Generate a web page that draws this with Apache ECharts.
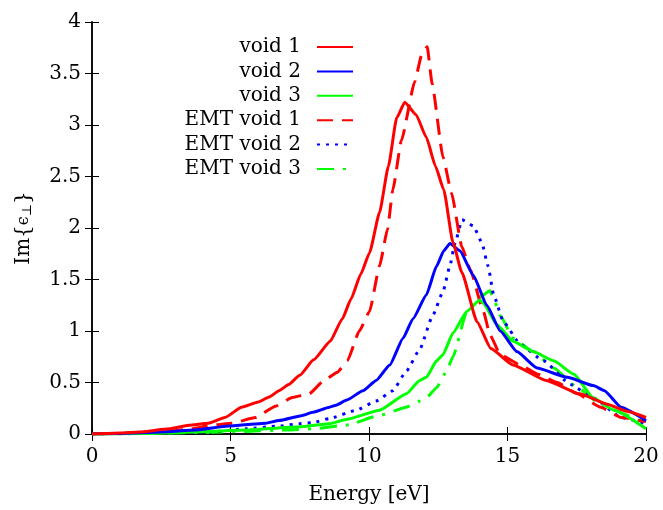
<!DOCTYPE html>
<html>
<head>
<meta charset="utf-8">
<script src="https://cdn.jsdelivr.net/npm/echarts@6/dist/echarts.min.js"></script>
<style>
html, body { margin: 0; padding: 0; background: #fff; }
#chart { width: 663px; height: 510px; }
</style>
</head>
<body>
<div id="chart"></div>
<script>
// names and values
var names = ['void 1', 'void 2', 'void 3', 'EMT void 1', 'EMT void 2', 'EMT void 3'];
var xTicks = [0, 5, 10, 15, 20];
var yTicks = [0, 0.5, 1, 1.5, 2, 2.5, 3, 3.5, 4];

var void1X = [0, 1, 1.7, 2.8, 3.5, 4.2, 4.8, 5.4, 6.0, 6.4, 6.75, 7.1, 7.5, 8.0, 8.6, 9.04, 9.35, 9.7, 10.02, 10.38, 10.7, 11.0, 11.29, 11.7, 12.07, 12.4, 12.7, 13.03, 13.35, 13.9, 14.4, 15.2, 16.4, 17.6, 18.6, 19.3, 20];
var void1Y = [0, 0.01, 0.02, 0.05, 0.086, 0.105, 0.16, 0.26, 0.31, 0.36, 0.42, 0.48, 0.57, 0.72, 0.9, 1.12, 1.31, 1.55, 1.76, 2.15, 2.6, 3.07, 3.22, 3.1, 2.88, 2.6, 2.37, 1.86, 1.57, 1.09, 0.83, 0.67, 0.52, 0.39, 0.29, 0.22, 0.16];

var void2X = [0, 1, 2.5, 3.73, 4.94, 5.5, 6.27, 6.75, 7.6, 7.96, 8.57, 8.81, 9.2, 9.78, 10.26, 10.75, 11.23, 11.59, 12.07, 12.44, 12.7, 12.92, 13.28, 13.77, 14.25, 14.74, 15.34, 16.07, 17.16, 18.1, 18.5, 19.1, 20];
var void2Y = [0, 0.005, 0.02, 0.038, 0.077, 0.09, 0.105, 0.13, 0.18, 0.21, 0.26, 0.28, 0.33, 0.42, 0.52, 0.67, 0.93, 1.12, 1.35, 1.63, 1.78, 1.85, 1.78, 1.54, 1.25, 1.0, 0.8, 0.64, 0.55, 0.47, 0.42, 0.26, 0.13];

var void3X = [0, 2, 3.7, 5.54, 7.36, 8.57, 9.17, 10.38, 11.35, 11.83, 12.07, 12.44, 12.67, 13.03, 13.53, 14.0, 14.13, 14.62, 15.2, 15.93, 16.67, 17.4, 18.1, 18.85, 20];
var void3Y = [0, 0.005, 0.02, 0.038, 0.067, 0.1, 0.14, 0.23, 0.39, 0.52, 0.55, 0.71, 0.77, 0.98, 1.19, 1.3, 1.27, 1.06, 0.9, 0.8, 0.71, 0.58, 0.35, 0.23, 0.05];

var emt1X = [0, 1.3, 2.5, 3.6, 4.33, 5.05, 5.9, 6.63, 7.23, 7.84, 8.38, 8.86, 9.22, 9.65, 10.02, 10.38, 10.67, 10.86, 11.17, 11.65, 11.9, 12.1, 12.28, 12.67, 12.98, 13.35, 13.65, 14.13, 14.37, 14.74, 15.46, 16.1, 16.8, 17.52, 18.37, 19.1, 20];
var emt1Y = [0, 0.005, 0.02, 0.05, 0.086, 0.105, 0.16, 0.27, 0.355, 0.39, 0.52, 0.6, 0.71, 1.0, 1.19, 1.63, 1.99, 2.37, 2.85, 3.42, 3.68, 3.76, 3.4, 2.69, 2.34, 1.82, 1.6, 1.19, 0.96, 0.77, 0.67, 0.58, 0.5, 0.39, 0.26, 0.16, 0.12];

var emt2X = [0, 2, 4.3, 5.54, 6.75, 7.48, 7.96, 8.57, 9.53, 10.26, 10.86, 11.35, 11.83, 12.3, 12.67, 12.92, 13.1, 13.36, 13.77, 14.07, 14.3, 14.5, 14.85, 15.46, 16.3, 17.28, 18.1, 19.1, 20];
var emt2Y = [0, 0.005, 0.02, 0.05, 0.077, 0.1, 0.11, 0.15, 0.23, 0.32, 0.42, 0.61, 0.82, 1.15, 1.38, 1.63, 1.85, 2.08, 2.02, 1.86, 1.63, 1.35, 1.09, 0.87, 0.71, 0.48, 0.35, 0.16, 0.1];

var emt3X = [0, 2, 4, 5.5, 7, 7.96, 9.17, 10.38, 11.35, 11.83, 12.07, 12.44, 12.8, 13.03, 13.53, 14.0, 14.37, 14.5, 14.74, 15.2, 15.93, 16.67, 17.52, 18.5, 20];
var emt3Y = [0, 0.005, 0.015, 0.025, 0.04, 0.05, 0.085, 0.18, 0.26, 0.32, 0.35, 0.45, 0.61, 0.75, 1.19, 1.33, 1.39, 1.31, 1.15, 0.93, 0.8, 0.64, 0.45, 0.26, 0.1];

var colors = ['#ff0000', '#0000ff', '#00ff00', '#ff0000', '#0000ff', '#00ff00'];
var dashes = ['solid', 'solid', 'solid', [16, 9], [3, 6], [17, 9, 3, 9]];

function pairs(xs, ys) {
	var out = [];
	for (var i = 0; i < xs.length; i++) out.push([xs[i], ys[i]]);
	return out;
}

var allX = [void1X, void2X, void3X, emt1X, emt2X, emt3X];
var allY = [void1Y, void2Y, void3Y, emt1Y, emt2Y, emt3Y];

var font = 'DejaVu Serif';
var series = [];
var legends = [];
for (var i = 0; i < names.length; i++) {
	series.push({
		name: names[i],
		type: 'line',
		data: pairs(allX[i], allY[i]),
		symbol: 'none',
		smooth: 0.15,
		smoothMonotone: 'x',
		color: colors[i],
		lineStyle: { color: colors[i], width: 3, type: dashes[i] },
		z: 10 - i
	});
	legends.push({
		data: [names[i]],
		right: 309,
		top: 37 + i * 24.4,
		padding: 0,
		align: 'right',
		itemWidth: 36,
		itemHeight: 14,
		itemStyle: { opacity: 0 },
		textStyle: { fontFamily: font, fontSize: 20, color: '#000', padding: [0, 11, 0, 0] }
	});
}

var chartDom = document.getElementById('chart');
var myChart = echarts.init(chartDom);
var option;
var axisLine = { show: true, lineStyle: { color: '#000', width: 1.5 } };
var tick = { show: true, inside: true, length: 7, lineStyle: { color: '#000', width: 1 } };

option = {
	backgroundColor: '#fff',
	animation: false,
	legend: legends,
	grid: { left: 92, right: 17, top: 22, bottom: 72 },
	xAxis: [{
		type: 'value',
		min: 0, max: 20, interval: 5,
		axisLine: axisLine,
		axisTick: tick,
		splitLine: { show: false },
		axisLabel: { fontFamily: font, fontSize: 20, color: '#000', margin: 13 },
		name: 'Energy [eV]',
		nameLocation: 'middle',
		nameGap: 51,
		nameTextStyle: { fontFamily: font, fontSize: 20, color: '#000' }
	}, {
		type: 'value', position: 'top',
		min: 0, max: 20, interval: 5,
		axisLine: axisLine, axisTick: tick,
		axisLabel: { show: false }, splitLine: { show: false }
	}],
	yAxis: [{
		type: 'value',
		min: 0, max: 4, interval: 0.5,
		axisLine: axisLine,
		axisTick: tick,
		splitLine: { show: false },
		axisLabel: { fontFamily: font, fontSize: 20, color: '#000', margin: 11 },
		name: 'Im{{e|ϵ}{s|⊥}}',
		nameLocation: 'middle',
		nameGap: 58,
		nameRotate: 90,
		nameTextStyle: {
			fontFamily: font, fontSize: 20, color: '#000',
			rich: {
				e: { fontFamily: font, fontSize: 16, color: '#000' },
				s: { fontFamily: font, fontSize: 13, color: '#000', padding: [8, 0, 0, 0] }
			}
		}
	}, {
		type: 'value', position: 'right',
		min: 0, max: 4, interval: 0.5,
		axisLine: axisLine, axisTick: tick,
		axisLabel: { show: false }, splitLine: { show: false }
	}],
	series: series
};

option && myChart.setOption(option);
</script>
</body>
</html>
